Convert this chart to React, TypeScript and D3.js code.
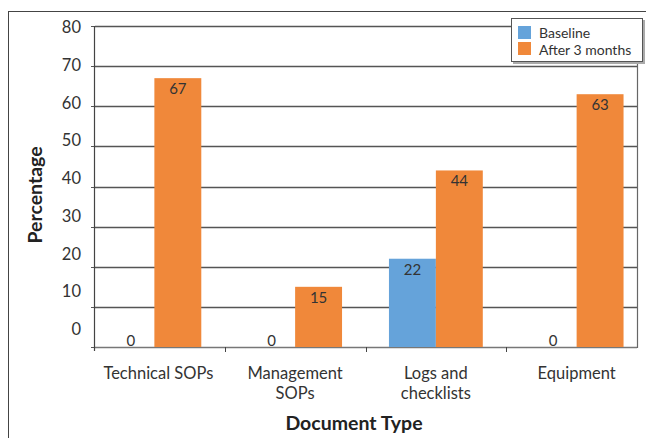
import React from "react";
import * as d3 from "d3";

const categories = ["Technical SOPs", "Management SOPs", "Logs and checklists", "Equipment"];
const categoryLines = [["Technical SOPs"], ["Management", "SOPs"], ["Logs and", "checklists"], ["Equipment"]];
const seriesNames = ["Baseline", "After 3 months"];
const baseline = [0, 0, 22, 0];
const after3Months = [67, 15, 44, 63];
const yTicks = [0, 10, 20, 30, 40, 50, 60, 70, 80];
const colors = ["#65A3DA", "#F0883A"];

const W = 646;
const H = 438;
const FONT = "Lato, 'Open Sans', sans-serif";

export default function App() {
  const axisX = 95;
  const rightX = 637;
  const x = d3.scaleBand<string>().domain(categories).range([84, 647]).padding(0);
  const bw = x.bandwidth();
  const xs = d3
    .scaleBand<string>()
    .domain(seriesNames)
    .range([bw / 6, (bw * 5) / 6])
    .padding(0);
  const y = d3.scaleLinear().domain([0, 80]).range([347, 26]);
  // tick labels sit on a slightly tighter scale than the gridlines
  const yLabel = d3.scaleLinear().domain([0, 80]).range([329, 27]);

  const values = [baseline, after3Months];
  const bars = categories.flatMap((c, ci) =>
    seriesNames.map((s, si) => ({ c, s, si, v: values[si][ci] }))
  );

  return (
    <svg width={W} height={H} style={{ position: "absolute", left: 0, top: 0 }} fontFamily={FONT}>
      <rect x={0} y={0} width={W} height={H} fill="#fff" />
      {/* outer chart frame */}
      <rect x={8.5} y={11.5} width={W + 10} height={H + 10} fill="none" stroke="#444" strokeWidth={1} />

      {/* gridlines */}
      {yTicks.map((t) => (
        <line
          key={"g" + t}
          x1={axisX}
          x2={rightX}
          y1={Math.round(y(t)) + 0.5}
          y2={Math.round(y(t)) + 0.5}
          stroke={t === 0 ? "#777" : "#555"}
          strokeWidth={1.3}
        />
      ))}
      {/* y tick marks */}
      {yTicks.map((t) => (
        <line
          key={"yt" + t}
          x1={axisX - 4}
          x2={axisX}
          y1={Math.round(y(t)) + 0.5}
          y2={Math.round(y(t)) + 0.5}
          stroke="#555"
        />
      ))}
      {/* y axis + right border */}
      <line x1={axisX - 0.5} x2={axisX - 0.5} y1={y(80)} y2={y(0) + 4} stroke="#444" strokeWidth={1.2} />
      <line x1={rightX + 0.5} x2={rightX + 0.5} y1={y(80)} y2={y(0) + 1} stroke="#666" strokeWidth={1.2} />

      {/* x tick marks between categories */}
      {categories.slice(1).map((c) => (
        <line
          key={"xt" + c}
          x1={Math.round(x(c)!) + 0.5}
          x2={Math.round(x(c)!) + 0.5}
          y1={y(0)}
          y2={y(0) + 5}
          stroke="#444"
        />
      ))}

      {/* y tick labels */}
      {yTicks.map((t) => (
        <text
          key={"yl" + t}
          x={81}
          y={yLabel(t)}
          textAnchor="end"
          dominantBaseline="central"
          fontSize={16.5}
          fill="#333"
        >
          {t}
        </text>
      ))}

      {/* bars */}
      {bars.map((b) => {
        const bx = x(b.c)! + xs(b.s)!;
        const top = y(b.v);
        return (
          <g key={b.c + b.s}>
            {b.v > 0 && (
              <rect x={bx} y={top} width={xs.bandwidth()} height={y(0) - top} fill={colors[b.si]} />
            )}
            <text
              x={bx + xs.bandwidth() / 2}
              y={Math.min(top + 16, y(0) - 1)}
              textAnchor="middle"
              fontSize={15}
              fill="#333"
            >
              {b.v}
            </text>
          </g>
        );
      })}

      {/* category labels */}
      {categories.map((c, ci) => (
        <text key={"cl" + c} textAnchor="middle" fontSize={16.5} fill="#333">
          {categoryLines[ci].map((line, li) => (
            <tspan key={li} x={x(c)! + bw / 2 + (ci === 0 ? 4 : 0)} y={379 + li * 20}>
              {line}
            </tspan>
          ))}
        </text>
      ))}

      {/* axis titles */}
      <text
        transform={`translate(42,195) rotate(-90)`}
        textAnchor="middle"
        fontSize={19.5}
        fontWeight="bold"
        fill="#222"
      >
        Percentage
      </text>
      <text x={354} y={430} textAnchor="middle" fontSize={19.5} fontWeight="bold" fill="#222">
        Document Type
      </text>

      {/* legend */}
      <rect x={513} y={20} width={132} height={44} fill="#aaa" />
      <rect x={511.5} y={18.5} width={131} height={43} fill="#fff" stroke="#555" />
      {seriesNames.map((s, i) => (
        <g key={"lg" + s}>
          <rect x={518} y={26 + i * 16} width={13} height={13} fill={colors[i]} />
          <text x={539} y={32 + i * 17} dominantBaseline="central" fontSize={14} fill="#333">
            {s}
          </text>
        </g>
      ))}
    </svg>
  );
}
